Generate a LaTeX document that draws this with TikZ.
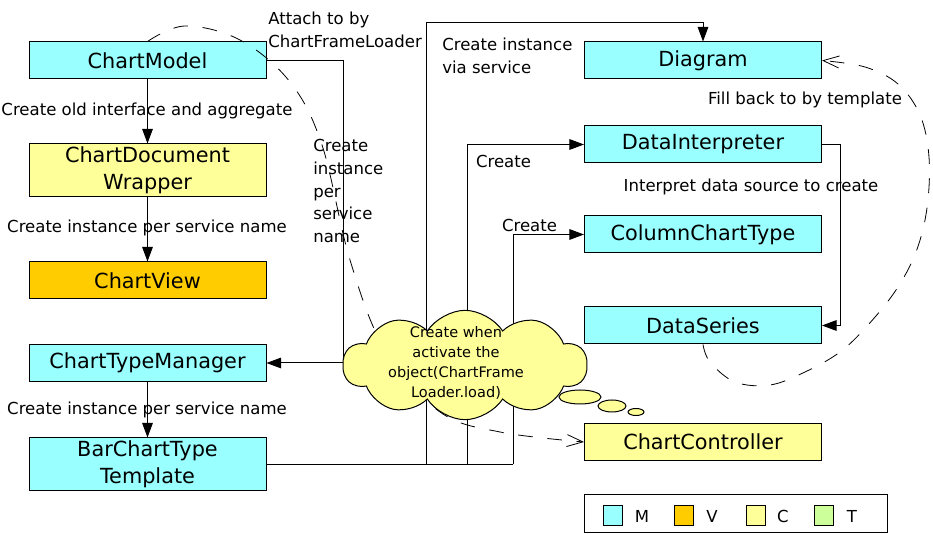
\documentclass[tikz,border=0pt]{standalone}
\usepackage{fontspec}
\setmainfont{DejaVu Sans}
\usetikzlibrary{arrows.meta,shapes.symbols,calc}
\definecolor{mcyan}{RGB}{153,255,255}
\definecolor{vorange}{RGB}{255,204,0}
\definecolor{cyel}{RGB}{255,255,153}
\definecolor{tgreen}{RGB}{204,255,153}
\begin{document}
\begin{tikzpicture}[x=0.75pt,y=-0.75pt,
  box/.style={draw, line width=0.75pt, minimum width=177.75pt, minimum height=27.75pt, inner sep=0pt, font=\fontsize{15.6}{20.5}\selectfont, align=center},
  box2/.style={box, minimum height=39.75pt},
  lbl/.style={font=\fontsize{12.4}{16.9}\selectfont, inner sep=0pt},
  conn/.style={line width=0.75pt},
  arr/.style={conn, -{Triangle[length=11pt,width=8pt]}},
  dsh/.style={line width=0.6pt, dash pattern=on 11pt off 11pt, -{Straight Barb[length=12pt,width=9pt]}},
  sq/.style={draw, line width=0.75pt, minimum width=14.25pt, minimum height=15pt, inner sep=0pt},
]
\useasboundingbox (0,0) rectangle (933,534);

% boxes
\node[box, fill=mcyan] (ChartModel) at (147.5,60.5) {ChartModel};
\node[box2, fill=cyel] (Wrapper) at (147.5,170.5) {ChartDocument\\Wrapper};
\node[box, fill=vorange] (ChartView) at (147.5,280.5) {ChartView};
\node[box, fill=mcyan] (Manager) at (147.5,363) {ChartTypeManager};
\node[box2, fill=mcyan] (Template) at (147.5,464.5) {BarChartType\\Template};
\node[box, fill=mcyan] (Diagram) at (703,60.5) {Diagram};
\node[box, fill=mcyan] (Interp) at (703,144.5) {DataInterpreter};
\node[box, fill=mcyan] (Column) at (703,234.5) {ColumnChartType};
\node[box, fill=mcyan] (Series) at (703,325.5) {DataSeries};
\node[box, fill=cyel] (Controller) at (703,442) {ChartController};

% left column arrows
\draw[arr] (ChartModel.south) -- (Wrapper.north);
\draw[arr] (Wrapper.south) -- (ChartView.north);
\draw[arr] (Manager.south) -- (Template.north);
\node[lbl] (l1) at (147,111) {Create old interface and aggregate};
\node[lbl] (l2) at (147,228) {Create instance per service name};
\node[lbl] (l3) at (147,410) {Create instance per service name};

% coordinates
\coordinate (j1) at (343,363);
\coordinate (bA) at (426,464.5);
\coordinate (bB) at (467,464.5);
\coordinate (bC) at (513,464.5);

% connectors
\draw[conn] (Template.east) -- (bC);
\draw[arr] (bA) -- ++(0,-441.5) -| (Diagram.north);
\draw[arr] (bB) |- (Interp.west);
\draw[arr] (bC) |- (Column.west);
\draw[arr] (Interp.east) -- ++(18,0) |- (Series.east);
\draw[conn] (ChartModel.east) -| (j1);

% dashed curves
\draw[dsh] plot[smooth, tension=0.6] coordinates {(ChartModel.north) (185,26) (240,40) (290,82) (322,145) (350,260) (385,350) (440,412) (500,432) (Controller.west)};
\draw[dsh] plot[smooth, tension=0.6] coordinates {(Series.south) (710,362) (735,382) (770,385) (805,372) (840,352) (868,325) (896,290) (916,252) (927,208) (929,157) (920,115) (898,84) (865,67) (Diagram.east)};

% cloud
\node[cloud, draw, fill=cyel, line width=0.75pt, cloud puffs=10, cloud puff arc=115, cloud ignores aspect, minimum width=183pt, minimum height=82pt, inner sep=0pt] (cloud) at (465,365) {};
\node[align=center, inner sep=0pt, font=\fontsize{10.9}{15}\selectfont] (cloudtext) at (456,363) {Create when\\activate the\\object(ChartFrame\\Loader.load)};
\draw[fill=cyel, line width=0.75pt] (580,397) ellipse [x radius=21, y radius=7];
\draw[fill=cyel, line width=0.75pt] (612,406) ellipse [x radius=14, y radius=6];
\draw[fill=cyel, line width=0.75pt] (636,412) ellipse [x radius=8, y radius=3.5];
\draw[arr] (j1) -- (Manager.east);

% labels
\node[lbl, align=left, anchor=west] (latt) at (268,30) {Attach to by\\ChartFrameLoader};
\node[lbl, align=left, anchor=west] (lvia) at (442,56) {Create instance\\via service};
\node[lbl, align=left, anchor=west] (lper) at (313,191) {Create\\instance\\per\\service\\name};
\node[lbl] (lfill) at (805,100) {Fill back to by template};
\node[lbl] (lint) at (751,187) {Interpret data source to create};
\node[lbl] (lc1) at (503.5,161) {Create};
\node[lbl] (lc2) at (529.5,225) {Create};

% legend
\node[draw, line width=0.75pt, minimum width=227.25pt, minimum height=28.5pt, inner sep=0pt] (legend) at (735.5,514) {};
\node[sq, fill=mcyan] (sqM) at (612.5,516) {};
\node[sq, fill=vorange] (sqV) at (683.5,516) {};
\node[sq, fill=cyel] (sqC) at (755.5,516) {};
\node[sq, fill=tgreen] (sqT) at (823.5,516) {};
\node[lbl] (tM) at (642,516) {M};
\node[lbl] (tV) at (712,516) {V};
\node[lbl] (tC) at (783,516) {C};
\node[lbl] (tT) at (852,516) {T};
\end{tikzpicture}
\end{document}
